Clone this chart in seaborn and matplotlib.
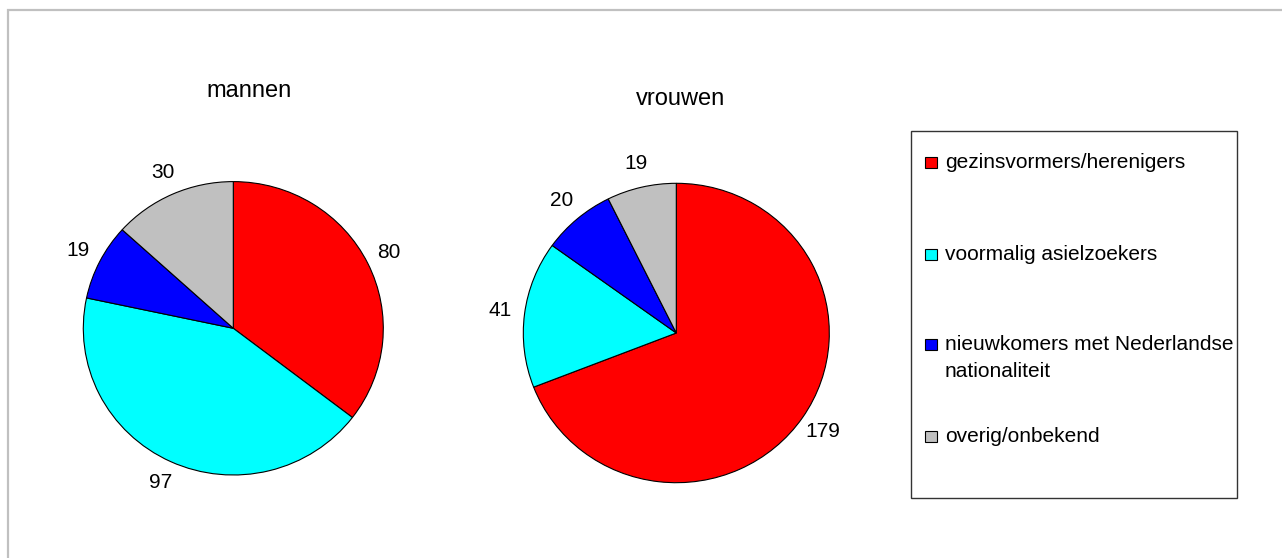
import matplotlib
matplotlib.use("Agg")
import matplotlib.pyplot as plt
import seaborn as sns
from matplotlib.patches import Rectangle

# data
categorieen = ['gezinsvormers/herenigers',
               'voormalig asielzoekers',
               'nieuwkomers met Nederlandse\nnationaliteit',
               'overig/onbekend']
mannen = [80, 97, 19, 30]
vrouwen = [179, 41, 20, 19]
kleuren = ['#FF0000', '#00FFFF', '#0000FF', '#C0C0C0']

sns.set_theme(style='white')
plt.rcParams['font.family'] = ['Liberation Sans', 'DejaVu Sans']
plt.rcParams['text.color'] = 'black'

W, H = 1282, 558
fig = plt.figure(figsize=(W / 100, H / 100), dpi=100)
fig.patch.set_facecolor('white')


def px_axes(cx, cy, rx, ry):
    # axes rond een middelpunt in pixels
    return fig.add_axes([(cx - rx) / W, (H - cy - ry) / H, 2 * rx / W, 2 * ry / H])


def taart(ax, waarden):
    wedges, texts = ax.pie(waarden, labels=[str(v) for v in waarden], colors=kleuren,
                           startangle=90, counterclock=False, labeldistance=1.16,
                           wedgeprops=dict(edgecolor='black', linewidth=0.8),
                           textprops=dict(fontsize=15, color='black'))
    for t in texts:
        t.set_ha('center')
        t.set_va('center')
    ax.set_aspect('auto')
    ax.set_xlim(-1, 1)
    ax.set_ylim(-1, 1)
    ax.axis('off')
    return wedges


ax1 = px_axes(233.3, 328.3, 150, 146.7)
taart(ax1, mannen)
ax2 = px_axes(676.3, 333, 153, 149.7)
taart(ax2, vrouwen)

fig.text(249 / W, 1 - 97 / H, 'mannen', ha='center', va='baseline', fontsize=17)
fig.text(681 / W, 1 - 105 / H, 'vrouwen', ha='center', va='baseline', fontsize=17)

# legenda (met de hand, zoals in excel)
fig.add_artist(Rectangle((911 / W, 1 - 498 / H), 326 / W, 367 / H, transform=fig.transFigure,
                         fill=False, edgecolor='#333333', linewidth=1.0))
basislijnen = [168, 260, 350, 442]
for kleur, tekst, y in zip(kleuren, categorieen, basislijnen):
    fig.add_artist(Rectangle((925 / W, 1 - y / H), 12 / W, 11 / H, transform=fig.transFigure,
                             facecolor=kleur, edgecolor='black', linewidth=0.8))
    for i, regel in enumerate(tekst.split('\n')):
        fig.text(945 / W, 1 - (y + i * 27) / H, regel, ha='left', va='baseline', fontsize=15)

# grijze rand van de grafiek
fig.add_artist(Rectangle((8 / W, -0.05), 1.2, 1 - 10 / H + 0.05, transform=fig.transFigure,
                         fill=False, edgecolor='#C0C0C0', linewidth=1.6))

fig.savefig('out.png', dpi=100)
